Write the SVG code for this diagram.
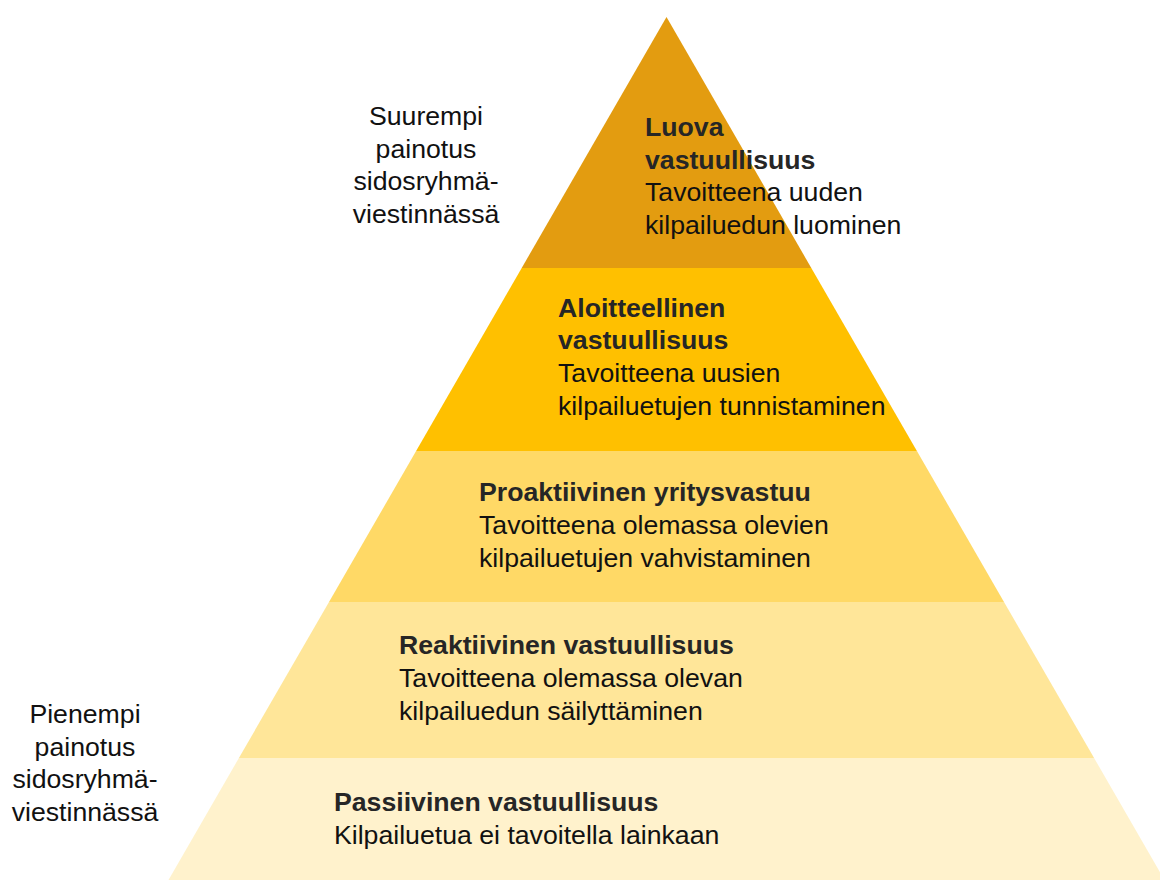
<svg xmlns="http://www.w3.org/2000/svg" width="1160" height="880" viewBox="0 0 1160 880">
<style>
text{font-family:"Liberation Sans",Arial,sans-serif;font-size:26.67px}
.b{font-weight:bold;fill:#262626}
.r{fill:#111111}
.c{text-anchor:middle;fill:#111111}
</style>
<rect width="1160" height="880" fill="#ffffff"/>
<g id="layer1">
<polygon points="666.5,17 811.3,268 521.7,268" fill="#E39C10"/>
<text x="645" y="136" class="b">Luova</text>
<text x="645" y="168.5" class="b">vastuullisuus</text>
<text x="645" y="201" class="r">Tavoitteena uuden</text>
<text x="645" y="234" class="r">kilpailuedun luominen</text>
</g>
<g id="layer2">
<polygon points="521.7,268 811.3,268 916.9,451 416.1,451" fill="#FFC000"/>
<text x="558" y="316.5" class="b">Aloitteellinen</text>
<text x="558" y="349" class="b">vastuullisuus</text>
<text x="558" y="382" class="r">Tavoitteena uusien</text>
<text x="558" y="415" class="r">kilpailuetujen tunnistaminen</text>
</g>
<g id="layer3">
<polygon points="416.1,451 916.9,451 1004,602 329,602" fill="#FFD966"/>
<text x="479" y="501" class="b">Proaktiivinen yritysvastuu</text>
<text x="479" y="534" class="r">Tavoitteena olemassa olevien</text>
<text x="479" y="566.5" class="r">kilpailuetujen vahvistaminen</text>
</g>
<g id="layer4">
<polygon points="329,602 1004,602 1094.1,758 238.9,758" fill="#FFE699"/>
<text x="399" y="654" class="b">Reaktiivinen vastuullisuus</text>
<text x="399" y="687" class="r">Tavoitteena olemassa olevan</text>
<text x="399" y="720" class="r">kilpailuedun säilyttäminen</text>
</g>
<g id="layer5">
<polygon points="238.9,758 1094.1,758 1164.5,880 168.5,880" fill="#FFF2CC"/>
<text x="334" y="811" class="b">Passiivinen vastuullisuus</text>
<text x="334" y="844" class="r">Kilpailuetua ei tavoitella lainkaan</text>
</g>
<g id="label-top">
<text x="426" y="125" class="c">Suurempi</text>
<text x="426" y="157.5" class="c">painotus</text>
<text x="426" y="190" class="c">sidosryhmä-</text>
<text x="426" y="223" class="c">viestinnässä</text>
</g>
<g id="label-bottom">
<text x="85" y="723" class="c">Pienempi</text>
<text x="85" y="755.5" class="c">painotus</text>
<text x="85" y="788" class="c">sidosryhmä-</text>
<text x="85" y="820.5" class="c">viestinnässä</text>
</g>
<g id="connectors"></g>
</svg>
